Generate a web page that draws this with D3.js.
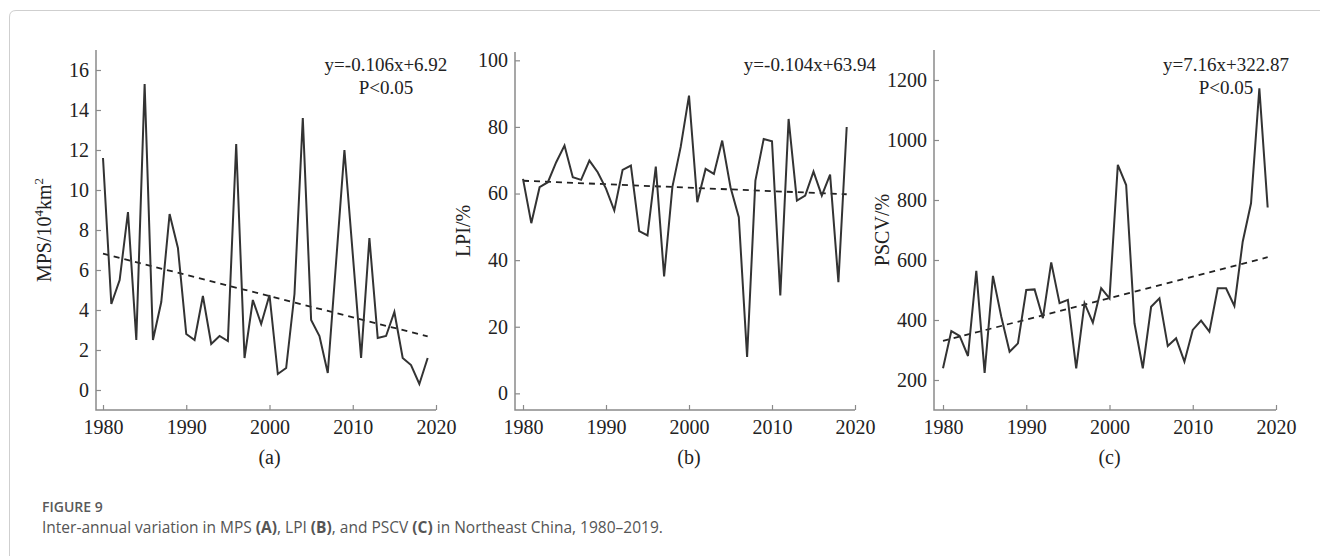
<!DOCTYPE html>
<html>
<head>
<meta charset="utf-8">
<script src="https://cdn.jsdelivr.net/npm/d3@7/dist/d3.min.js"></script>
<style>
  html, body { margin: 0; padding: 0; background: #fff; }
  svg { display: block; }
</style>
</head>
<body>
<svg id="chart" width="1320" height="556"></svg>
<script>
// ---------------- DATA ----------------
const years = d3.range(1980, 2020);
const xTicks = [1980, 1990, 2000, 2010, 2020];

const mps = [11.6, 4.3, 5.5, 8.9, 2.5, 15.3, 2.5, 4.4, 8.8, 7.1,
             2.8, 2.5, 4.7, 2.3, 2.7, 2.45, 12.3, 1.6, 4.5, 3.3,
             4.75, 0.8, 1.1, 4.8, 13.6, 3.5, 2.7, 0.85, 6.4, 12.0,
             6.8, 1.6, 7.6, 2.6, 2.7, 3.9, 1.6, 1.25, 0.3, 1.6];
const lpi = [64.4, 51.1, 61.9, 63.4, 69.4, 74.4, 64.9, 64.1, 69.9, 66.4,
             61.5, 54.9, 67.1, 68.4, 48.7, 47.4, 68.1, 35.1, 62.0, 74.0,
             89.4, 57.4, 67.4, 65.9, 75.9, 61.9, 52.9, 10.9, 63.9, 76.4,
             75.7, 29.4, 82.4, 57.9, 59.4, 66.6, 59.4, 65.7, 33.4, 80.0];
const pscv = [239, 363, 347, 280, 564, 224, 547, 411, 294, 322,
              500, 502, 406, 592, 456, 467, 239, 456, 391, 506,
              472, 917, 850, 389, 239, 444, 472, 313, 339, 261,
              367, 398, 361, 506, 506, 447, 661, 789, 1172, 775];

const mpsTicks = [0, 2, 4, 6, 8, 10, 12, 14, 16];
const lpiTicks = [0, 20, 40, 60, 80, 100];
const pscvTicks = [200, 400, 600, 800, 1000, 1200];

// regression: y = slope * x + intercept, x = 1..40
const mpsFit = { slope: -0.106, intercept: 6.92 };
const lpiFit = { slope: -0.104, intercept: 63.94 };
const pscvFit = { slope: 7.16, intercept: 322.87 };

const eqTexts = [["y=-0.106x+6.92", "P<0.05"], ["y=-0.104x+63.94"], ["y=7.16x+322.87", "P<0.05"]];
const panelLabels = ["(a)", "(b)", "(c)"];

// ---------------- LAYOUT ----------------
const svg = d3.select("#chart");
const serif = "'Liberation Serif', 'Times New Roman', serif";
const axisColor = "#8a8a8a";
const lineColor = "#333";

// card border
svg.append("path")
  .attr("d", "M9.5,556 L9.5,17 Q9.5,10.5 16,10.5 L1320,10.5")
  .attr("fill", "none").attr("stroke", "#cfcfcf").attr("stroke-width", 1);

const panels = [
  { data: mps, fit: mpsFit, ticks: mpsTicks, yDomain: [-1, 17], axisX: 96, xRange: [103, 436],
    eq: eqTexts[0], eqX: 386, label: panelLabels[0], ylab: "mps" },
  { data: lpi, fit: lpiFit, ticks: lpiTicks, yDomain: [-5, 102.5], axisX: 515, xRange: [523, 855],
    eq: eqTexts[1], eqX: 810, label: panelLabels[1], ylab: "lpi" },
  { data: pscv, fit: pscvFit, ticks: pscvTicks, yDomain: [100, 1300], axisX: 934, xRange: [943, 1276],
    eq: eqTexts[2], eqX: 1226, label: panelLabels[2], ylab: "pscv" }
];

const yTop = 50, yBottom = 410;

panels.forEach((p, pi) => {
  const x = d3.scaleLinear().domain([1980, 2020]).range(p.xRange);
  const yTopPx = pi === 1 ? 52 : yTop;
  const y = d3.scaleLinear().domain(p.yDomain).range([yBottom, yTopPx]);
  const g = svg.append("g");

  // x axis
  const gx = g.append("g").attr("transform", `translate(0,${yBottom})`)
    .call(d3.axisBottom(x).tickValues(xTicks).tickFormat(d3.format("d"))
      .tickSizeInner(-5).tickSizeOuter(0).tickPadding(10));
  gx.select(".domain").remove();
  gx.selectAll(".tick line").attr("stroke", axisColor).attr("stroke-width", 1.2);
  gx.selectAll(".tick text").attr("font-family", serif).attr("font-size", 20).attr("fill", "#222");

  // y axis
  const gy = g.append("g").attr("transform", `translate(${p.axisX},0)`)
    .call(d3.axisLeft(y).tickValues(p.ticks).tickFormat(d3.format("d"))
      .tickSizeInner(-5).tickSizeOuter(0).tickPadding(7));
  gy.select(".domain").remove();
  gy.selectAll(".tick line").attr("stroke", axisColor).attr("stroke-width", 1.2);
  gy.selectAll(".tick text").attr("font-family", serif).attr("font-size", 20).attr("fill", "#222");

  // axis lines (L shape)
  g.append("path")
    .attr("d", `M${p.axisX},${yTopPx} L${p.axisX},${yBottom} L${x(2020)},${yBottom}`)
    .attr("fill", "none").attr("stroke", axisColor).attr("stroke-width", 1.5);

  // trend line
  const fitY = (i) => p.fit.slope * (i + 1) + p.fit.intercept;
  g.append("line")
    .attr("x1", x(years[0])).attr("y1", y(fitY(0)))
    .attr("x2", x(years[years.length - 1])).attr("y2", y(fitY(years.length - 1)))
    .attr("stroke", "#222").attr("stroke-width", 1.8).attr("stroke-dasharray", "6,5");

  // data line
  const line = d3.line().x((d, i) => x(years[i])).y(d => y(d));
  g.append("path").datum(p.data)
    .attr("d", line)
    .attr("fill", "none").attr("stroke", lineColor).attr("stroke-width", 2)
    .attr("stroke-linejoin", "miter");

  // equation text
  p.eq.forEach((t, k) => {
    g.append("text")
      .attr("x", p.eqX).attr("y", 71 + k * 23)
      .attr("text-anchor", "middle")
      .attr("font-family", serif).attr("font-size", 19).attr("fill", "#222")
      .text(t);
  });

  // panel label
  g.append("text")
    .attr("x", x(2000)).attr("y", 464)
    .attr("text-anchor", "middle")
    .attr("font-family", serif).attr("font-size", 20).attr("fill", "#222")
    .text(p.label);

  // y-axis title
  const yc = (yTopPx + yBottom) / 2;
  const yt = g.append("text")
    .attr("transform", `translate(${p.axisX - 45},${yc}) rotate(-90)`)
    .attr("text-anchor", "middle")
    .attr("font-family", serif).attr("font-size", 20).attr("fill", "#222");
  if (p.ylab === "mps") {
    yt.append("tspan").text("MPS/10");
    yt.append("tspan").attr("font-size", 13).attr("dy", -8).text("4");
    yt.append("tspan").attr("dy", 8).text("km");
    yt.append("tspan").attr("font-size", 13).attr("dy", -8).text("2");
  } else if (p.ylab === "lpi") {
    yt.text("LPI/%");
  } else {
    yt.text("PSCV/%");
  }
});

// caption
const sans = "'Open Sans', 'Noto Sans', sans-serif";
svg.append("text").attr("x", 42).attr("y", 512)
  .attr("font-family", sans).attr("font-size", 14).attr("fill", "#5a5a5a")
  .attr("font-weight", 600)
  .text("FIGURE 9");

const cap = svg.append("text").attr("x", 42).attr("y", 533)
  .attr("font-family", sans).attr("font-size", 15.5).attr("fill", "#555");
const capParts = [
  ["Inter-annual variation in MPS ", false], ["(A)", true], [", LPI ", false], ["(B)", true],
  [", and PSCV ", false], ["(C)", true], [" in Northeast China, 1980\u20132019.", false]
];
capParts.forEach(([t, b]) => {
  cap.append("tspan").attr("font-weight", b ? 700 : 400).text(t);
});
</script>
</body>
</html>
